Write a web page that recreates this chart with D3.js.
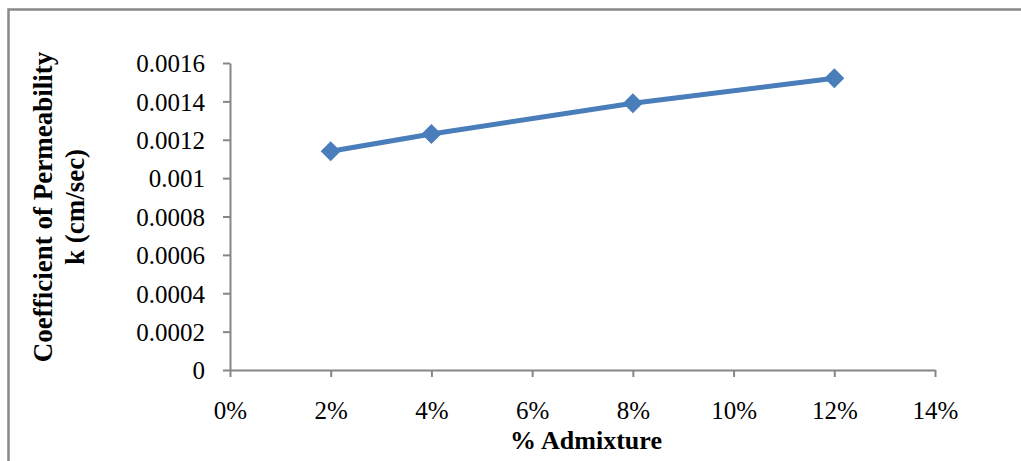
<!DOCTYPE html>
<html>
<head>
<meta charset="utf-8">
<script src="https://cdn.jsdelivr.net/npm/d3@7"></script>
<style>
  html, body { margin: 0; padding: 0; background: #fff; }
  svg { display: block; }
  text { font-family: "Liberation Serif", "Times New Roman", serif; fill: #000; }
</style>
</head>
<body>
<svg id="chart" width="1021" height="461"></svg>
<script>
const admixture = [0.02, 0.04, 0.08, 0.12];
const permeability = [0.00114, 0.00123, 0.00139, 0.00152];
const xTicks = [0, 0.02, 0.04, 0.06, 0.08, 0.10, 0.12, 0.14];
const yTicks = [0, 0.0002, 0.0004, 0.0006, 0.0008, 0.001, 0.0012, 0.0014, 0.0016];
const xTitle = "% Admixture";
const yTitleLines = ["Coefficient of Permeability", "k (cm/sec)"];

const svg = d3.select("#chart");
const W = 1021, H = 461;
const m = { left: 230, right: 1021 - 935, top: 63, bottom: 461 - 370 };

// outer frame (extends past right and bottom edges)
svg.append("rect")
  .attr("x", 8.5).attr("y", 9.5)
  .attr("width", W + 20).attr("height", H + 20)
  .attr("fill", "none").attr("stroke", "#898989").attr("stroke-width", 2.5);

const x = d3.scaleLinear().domain([0, 0.14]).range([m.left, W - m.right]);
const y = d3.scaleLinear().domain([0, 0.0016]).range([H - m.bottom, m.top]);

const axisColor = "#868686";

const xAxis = svg.append("g")
  .attr("transform", `translate(0,${y(0)})`)
  .call(d3.axisBottom(x).tickValues(xTicks).tickSize(7).tickSizeOuter(0)
    .tickFormat(d => Math.round(d * 100) + "%"));
const yAxis = svg.append("g")
  .attr("transform", `translate(${x(0)},0)`)
  .call(d3.axisLeft(y).tickValues(yTicks).tickSize(7).tickSizeOuter(0)
    .tickFormat(d => d === 0 ? "0" : String(+d.toFixed(4))));

[xAxis, yAxis].forEach(g => {
  g.select(".domain").attr("stroke", axisColor).attr("stroke-width", 2);
  g.selectAll(".tick line").attr("stroke", axisColor).attr("stroke-width", 2);
  g.selectAll(".tick text")
    .style("font-family", '"Liberation Serif", "Times New Roman", serif')
    .attr("font-size", 25).attr("fill", "#000");
});
xAxis.selectAll(".tick text").attr("y", 0).attr("dy", 0)
  .attr("transform", "translate(0,49)");
yAxis.selectAll(".tick text").attr("x", -25).attr("dy", "0.35em");

// line
svg.append("path")
  .datum(admixture.map((a, i) => [a, permeability[i]]))
  .attr("fill", "none")
  .attr("stroke", "#4A7EBB")
  .attr("stroke-width", 5)
  .attr("stroke-linejoin", "round")
  .attr("d", d3.line().x(d => x(d[0])).y(d => y(d[1])));

// diamond markers
const diamond = d3.symbol().type(d3.symbolSquare).size(200);
svg.selectAll(".marker")
  .data(admixture.map((a, i) => [a, permeability[i]]))
  .join("path")
  .attr("class", "marker")
  .attr("d", diamond)
  .attr("transform", d => `translate(${x(d[0])},${y(d[1])}) rotate(45)`)
  .attr("fill", "#4A7EBB");

// titles
svg.append("text")
  .attr("x", 586).attr("y", 449)
  .attr("text-anchor", "middle")
  .attr("font-size", 26).attr("font-weight", "bold")
  .text(xTitle);

const yt = svg.append("text")
  .attr("transform", "translate(52,207) rotate(-90)")
  .attr("text-anchor", "middle")
  .attr("font-size", 27).attr("font-weight", "bold");
yTitleLines.forEach((t, i) => {
  yt.append("tspan").attr("x", 0).attr("dy", i === 0 ? 0 : 32).text(t);
});
</script>
</body>
</html>
